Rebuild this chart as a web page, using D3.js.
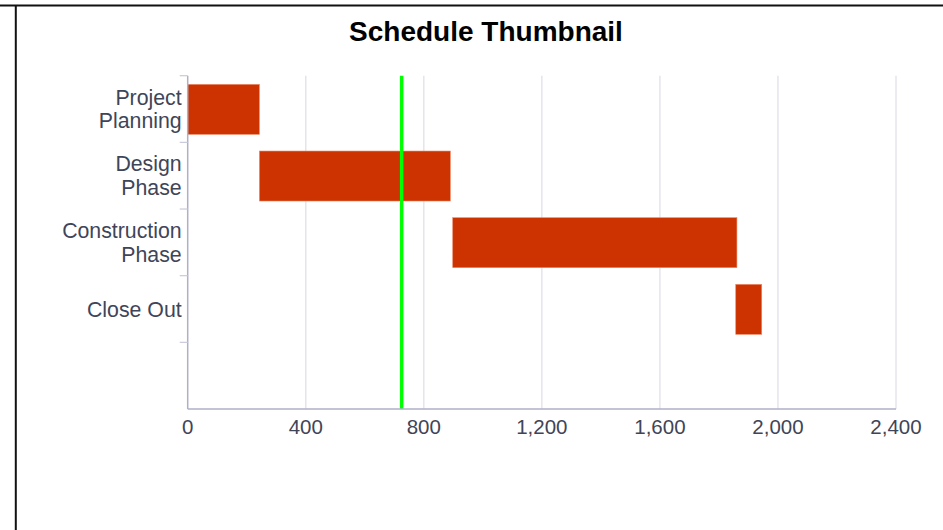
<html>
<head>
<script src="https://d3js.org/d3.v7.min.js"></script>
<title>Schedule Thumbnail</title>
<style>
  body { margin: 0; background: #ffffff; }
  text { font-family: "Liberation Sans", Arial, sans-serif; }
</style>
</head>
<body>
<script>
  // Schedule data: one row per phase, start and end in days
  var phases = ["Project Planning", "Design Phase", "Construction Phase", "Close Out"];
  var phaseLines = [["Project", "Planning"], ["Design", "Phase"], ["Construction", "Phase"], ["Close Out"]];
  var starts = [0, 243, 898, 1857];
  var ends = [243, 890, 1861, 1945];
  var today = 725;
  var xTicks = [0, 400, 800, 1200, 1600, 2000, 2400];

  var width = 943, height = 530;
  var plotLeft = 187.7, plotRight = 896, plotTop = 75.7, plotBottom = 409;

  var svg = d3.select("body")
      .append("svg")
      .attr("width", width)
      .attr("height", height);

  // page borders (table cell look)
  svg.append("line").attr("x1", 0).attr("x2", width).attr("y1", 5.5).attr("y2", 5.5)
      .attr("stroke", "#111").attr("stroke-width", 2);
  svg.append("line").attr("x1", 15.8).attr("x2", 15.8).attr("y1", 5).attr("y2", height)
      .attr("stroke", "#111").attr("stroke-width", 2);

  // scales - an empty row is kept under the last phase
  var x = d3.scaleLinear().domain([0, 2400]).range([plotLeft, plotRight]);
  var rows = phases.concat([""]);
  var y = d3.scaleBand().domain(rows).range([plotTop, plotBottom]).padding(0);

  // title
  svg.append("text")
      .attr("x", 486).attr("y", 41)
      .attr("text-anchor", "middle")
      .attr("font-size", 28).attr("font-weight", "bold")
      .attr("fill", "#000")
      .text("Schedule Thumbnail");

  // vertical grid lines
  svg.selectAll(".grid")
      .data(xTicks.slice(1))
      .enter().append("line")
      .attr("class", "grid")
      .attr("x1", function(d) { return x(d); })
      .attr("x2", function(d) { return x(d); })
      .attr("y1", plotTop).attr("y2", plotBottom)
      .attr("stroke", "#e4e4ec").attr("stroke-width", 1.5);

  // bars
  svg.selectAll(".bar")
      .data(phases)
      .enter().append("rect")
      .attr("class", "bar")
      .attr("x", function(d, i) { return x(starts[i]); })
      .attr("width", function(d, i) { return x(ends[i]) - x(starts[i]); })
      .attr("y", function(d) { return y(d) + y.bandwidth() * 0.13; })
      .attr("height", y.bandwidth() * 0.75)
      .attr("fill", "#cc3300")
      .attr("stroke", "#ee8866").attr("stroke-width", 0.6);

  // today line
  svg.append("line")
      .attr("x1", x(today)).attr("x2", x(today))
      .attr("y1", plotTop).attr("y2", plotBottom)
      .attr("stroke", "#00ff00").attr("stroke-width", 3.5);

  // axes
  svg.append("line").attr("x1", plotLeft).attr("x2", plotRight).attr("y1", plotBottom).attr("y2", plotBottom)
      .attr("stroke", "#aeb0c8").attr("stroke-width", 1.5);
  svg.append("line").attr("x1", plotLeft).attr("x2", plotLeft).attr("y1", plotTop).attr("y2", plotBottom)
      .attr("stroke", "#aeb0c8").attr("stroke-width", 1.5);

  // y tick marks between the rows
  svg.selectAll(".ytick")
      .data(rows)
      .enter().append("line")
      .attr("class", "ytick")
      .attr("x1", plotLeft - 8).attr("x2", plotLeft)
      .attr("y1", function(d) { return y(d); })
      .attr("y2", function(d) { return y(d); })
      .attr("stroke", "#c8cadb").attr("stroke-width", 1.2);

  // x tick labels
  svg.selectAll(".xlabel")
      .data(xTicks)
      .enter().append("text")
      .attr("class", "xlabel")
      .attr("x", function(d) { return x(d); })
      .attr("y", 434)
      .attr("text-anchor", "middle")
      .attr("font-size", 20.5)
      .attr("fill", "#3f4558")
      .text(function(d) { return d3.format(",")(d); });

  // y category labels, wrapped onto lines
  var lineH = 23.5;
  var labels = svg.selectAll(".ylabel")
      .data(phases)
      .enter().append("text")
      .attr("class", "ylabel")
      .attr("text-anchor", "end")
      .attr("font-size", 21.3)
      .attr("fill", "#3f4558");
  labels.each(function(d, i) {
    var lines = phaseLines[i];
    var mid = y(d) + y.bandwidth() / 2;
    var first = mid - (lines.length - 1) * lineH / 2 + 7.5;
    d3.select(this).selectAll("tspan")
        .data(lines)
        .enter().append("tspan")
        .attr("x", plotLeft - 6)
        .attr("y", function(t, j) { return first + j * lineH; })
        .text(function(t) { return t; });
  });
</script>
</body>
</html>
